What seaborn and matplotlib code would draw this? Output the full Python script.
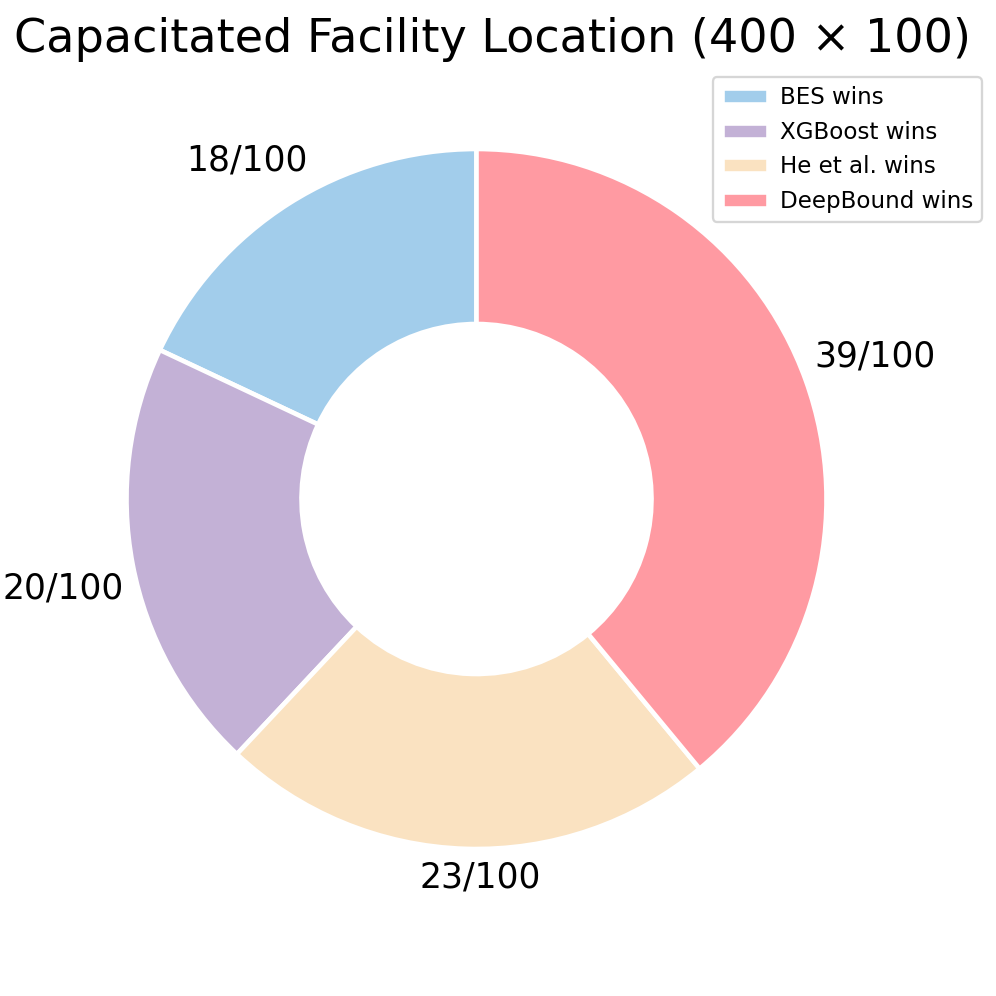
import numpy as np
import matplotlib
matplotlib.use("Agg")
import matplotlib.pyplot as plt
import seaborn as sns

# wins per method out of the 100 test instances
methods = ["BES", "XGBoost", "He et al.", "DeepBound"]
wins = [18, 20, 23, 39]
n_instances = 100
colors = ["#A2CDEB", "#C3B1D6", "#FAE2C1", "#FF9AA2"]
title = "Capacitated Facility Location (400 \u00d7 100)"

sns.set_style("white")
plt.rcParams["font.family"] = ["DejaVu Sans"]
plt.rcParams["text.color"] = "black"

W = 996  # pixels
fig = plt.figure(figsize=(6, 6), dpi=166)
# axes spans from left edge to near right edge; pie centre / radius given in px
ax_right, ax_top = 993.5, 65.5
cx, cy, r_px = 476.5, 499.0, 350.0
ax = fig.add_axes([0, 0, ax_right / W, (W - ax_top) / W])

wedges, _ = ax.pie(
    wins,
    colors=sns.color_palette(colors),
    startangle=90,
    counterclock=True,
    wedgeprops=dict(width=0.5, edgecolor="white", linewidth=2),
)
ax.set_xlim(-cx / r_px, (ax_right - cx) / r_px)
ax.set_ylim(-(W - cy) / r_px, (cy - ax_top) / r_px)
ax.set_aspect("equal", adjustable="datalim")

# put the count labels just outside the ring, pushed out by their own size
# (small angular nudges so they sit like the original)
nudge_deg = [1.8, 1.4, 2.3, -0.2]
fig.canvas.draw()
renderer = fig.canvas.get_renderer()
px_per_unit = ax.transData.transform((1, 0))[0] - ax.transData.transform((0, 0))[0]
for w, n, nd in zip(wedges, wins, nudge_deg):
    theta = np.deg2rad((w.theta1 + w.theta2) / 2 + nd)
    t = ax.text(0, 0, f"{n}/{n_instances}", ha="center", va="center", fontsize=15)
    bb = t.get_window_extent(renderer)
    hw = bb.width / 2 / px_per_unit
    hh = bb.height / 2 / px_per_unit
    d = 1.03 + abs(np.cos(theta)) * hw + abs(np.sin(theta)) * hh
    t.set_position((d * np.cos(theta), d * np.sin(theta)))

ax.legend(wedges, [f"{m} wins" for m in methods], loc="upper right",
          fontsize=10, handletextpad=0.5)
ax.set_title(title, fontsize=20, x=0.4955)

fig.savefig("out.png", dpi=166)
